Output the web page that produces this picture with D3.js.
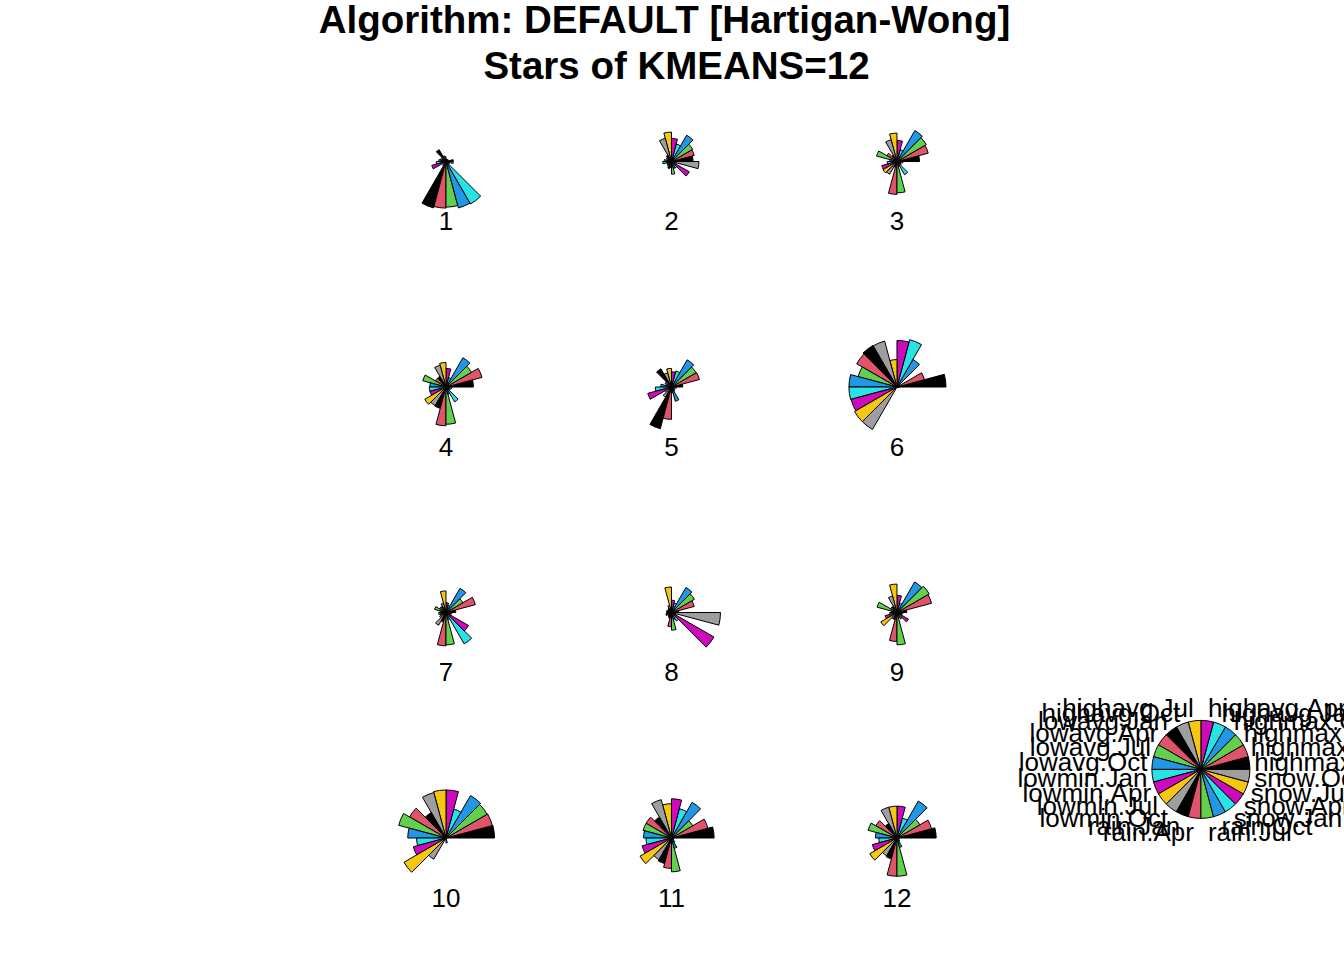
<!DOCTYPE html>
<html><head><meta charset="utf-8">
<script src="https://cdn.jsdelivr.net/npm/d3@7"></script>
<style>body{margin:0;background:#fff} svg{display:block}</style>
</head><body><svg id="chart" width="1344" height="960"></svg>
<script>
// ---- data ----
const variables = ["highmax.Jan","highmax.Apr","highmax.Jul","highmax.Oct",
  "highavg.Jan","highavg.Apr","highavg.Jul","highavg.Oct",
  "lowavg.Jan","lowavg.Apr","lowavg.Jul","lowavg.Oct",
  "lowmin.Jan","lowmin.Apr","lowmin.Jul","lowmin.Oct",
  "rain.Jan","rain.Apr","rain.Jul","rain.Oct",
  "snow.Jan","snow.Apr","snow.Jul","snow.Oct"];
const clusterLabels = ["1","2","3","4","5","6","7","8","9","10","11","12"];
// scaled (0..1) values per cluster, one per variable
const cluster1  = [0.15,0.05,0.05,0.05,0.05,0.05,0.10,0.12,0.28,0.10,0.12,0.15,0.20,0.30,0.05,0.10,0.98,0.95,0.93,0.98,1.00,0.08,0.05,0.15];
const cluster2  = [0.44,0.48,0.50,0.62,0.37,0.47,0.60,0.49,0.15,0.12,0.10,0.15,0.18,0.10,0.10,0.12,0.15,0.12,0.26,0.15,0.15,0.42,0.10,0.56];
const cluster3  = [0.46,0.66,0.69,0.73,0.25,0.43,0.58,0.46,0.15,0.24,0.43,0.15,0.20,0.32,0.33,0.30,0.12,0.67,0.64,0.10,0.31,0.10,0.08,0.12];
const cluster4  = [0.56,0.76,0.60,0.69,0.20,0.38,0.50,0.46,0.25,0.25,0.49,0.33,0.34,0.34,0.50,0.44,0.45,0.79,0.76,0.15,0.35,0.10,0.08,0.12];
const cluster5  = [0.23,0.59,0.58,0.64,0.34,0.31,0.38,0.30,0.43,0.15,0.12,0.22,0.33,0.50,0.15,0.24,0.88,0.66,0.12,0.30,0.10,0.08,0.05,0.10];
const cluster6  = [1.00,0.58,0.05,0.65,1.00,0.95,0.56,0.97,0.98,0.95,0.82,0.98,0.98,0.97,1.00,1.00,0.00,0.00,0.00,0.00,0.00,0.00,0.00,0.05];
const cluster7  = [0.20,0.62,0.40,0.57,0.15,0.20,0.44,0.20,0.15,0.15,0.24,0.12,0.15,0.12,0.15,0.30,0.20,0.68,0.66,0.15,0.74,0.53,0.10,0.12];
const cluster8  = [0.15,0.48,0.54,0.59,0.20,0.25,0.52,0.15,0.10,0.08,0.10,0.10,0.10,0.12,0.08,0.10,0.12,0.29,0.36,0.15,0.20,1.00,0.10,1.00];
const cluster9  = [0.20,0.73,0.76,0.72,0.20,0.35,0.58,0.35,0.15,0.15,0.42,0.12,0.15,0.25,0.38,0.15,0.15,0.59,0.66,0.12,0.15,0.27,0.10,0.12];
const cluster10 = [0.99,0.98,0.97,1.00,0.61,0.98,0.98,0.96,0.60,0.86,1.00,0.78,0.60,0.69,0.99,0.50,0.02,0.02,0.10,0.02,0.00,0.00,0.00,0.00];
const cluster11 = [0.87,0.77,0.50,0.84,0.62,0.80,0.70,0.81,0.49,0.60,0.60,0.57,0.52,0.62,0.74,0.51,0.54,0.62,0.69,0.22,0.10,0.05,0.05,0.05];
const cluster12 = [0.80,0.73,0.54,0.87,0.42,0.65,0.65,0.65,0.34,0.50,0.61,0.44,0.37,0.52,0.64,0.42,0.44,0.78,0.78,0.20,0.08,0.05,0.05,0.05];
const seriesValues = [cluster1,cluster2,cluster3,cluster4,cluster5,cluster6,
  cluster7,cluster8,cluster9,cluster10,cluster11,cluster12];
const titleLines = ["Algorithm: DEFAULT [Hartigan-Wong]", "Stars of KMEANS=12"];

// ---- style ----
const palette = ["#000000","#DF536B","#61D04F","#2297E6","#28E2E5","#CD0BBC","#F5C710","#9E9E9E"];
const FONT = "'Liberation Sans', Arial, Helvetica, sans-serif";
const fs = 26;

// ---- scales (R user coordinates -> px) ----
const ux = d3.scaleLinear().domain([0, 10]).range([220.5, 1200.9]);
const uy = d3.scaleLinear().domain([0, 10]).range([1063.5, 83.1]);
const lenU = 0.5;
const len = ux(lenU) - ux(0);
const rScale = d3.scaleLinear().domain([0, 1]).range([0, len]);

const nVar = variables.length;
const step = 2 * Math.PI / nVar;
const nCol = 3, nRow = 4, ff = 2.3;
const locations = clusterLabels.map((lab, i) => ({
  x: ff * (i % nCol + 1), y: ff * (nRow - Math.floor(i / nCol))
}));
const keyLoc = {x: 10, y: 3};

const svg = d3.select("#chart");
const arc = d3.arc().innerRadius(0)
  .outerRadius(d => d.r)
  .startAngle(d => Math.PI / 2 - (d.k + 1) * step)
  .endAngle(d => Math.PI / 2 - d.k * step);

function drawStar(g, vals, scaleR) {
  g.selectAll("path").data(vals.map((v, k) => ({k, r: scaleR(v)})))
    .join("path")
    .attr("d", arc)
    .attr("fill", d => palette[d.k % palette.length])
    .attr("stroke", "#000").attr("stroke-width", 1)
    .attr("stroke-linejoin", "round");
}

// stars
seriesValues.forEach((vals, i) => {
  const cx = ux(locations[i].x), cy = uy(locations[i].y);
  const g = svg.append("g").attr("transform", `translate(${cx},${cy})`);
  drawStar(g, vals, rScale);
  svg.append("text").attr("x", cx).attr("y", cy + 68.5)
    .attr("text-anchor", "middle").attr("font-family", FONT)
    .attr("font-size", fs).attr("fill", "#000").text(clusterLabels[i]);
});

// key
const kx = ux(keyLoc.x), ky = uy(keyLoc.y);
const kg = svg.append("g").attr("transform", `translate(${kx},${ky})`);
drawStar(kg, variables.map(() => 1), rScale);
const capH = 0.716 * fs;
variables.forEach((name, k) => {
  const a = (k + 0.5) * step;
  const lx = kx + 1.1 * len * Math.cos(a);
  const ly = ky - 1.1 * len * Math.sin(a);
  const deg = Math.PI / 180;
  const hadj = (a < 90 * deg || a > 270 * deg) ? 0 : ((a > 90 * deg && a < 270 * deg) ? 1 : 0.5);
  const vadj = a <= 90 * deg ? (1 - a / (90 * deg)) / 2
    : (a <= 270 * deg ? (a - 90 * deg) / (180 * deg) : 1 - (a - 270 * deg) / (180 * deg));
  svg.append("text").attr("x", lx).attr("y", ly + vadj * capH)
    .attr("text-anchor", hadj === 0 ? "start" : (hadj === 1 ? "end" : "middle"))
    .attr("font-family", FONT).attr("font-size", fs).attr("fill", "#000")
    .text(name);
});

// title
const titleX = [664.5, 676.5], titleY = [32.5, 78.5];
titleLines.forEach((t, i) => {
  svg.append("text").attr("x", titleX[i]).attr("y", titleY[i])
    .attr("text-anchor", "middle").attr("font-family", FONT)
    .attr("font-weight", "bold").attr("font-size", 38.5).attr("fill", "#000").text(t);
});
</script></body></html>
